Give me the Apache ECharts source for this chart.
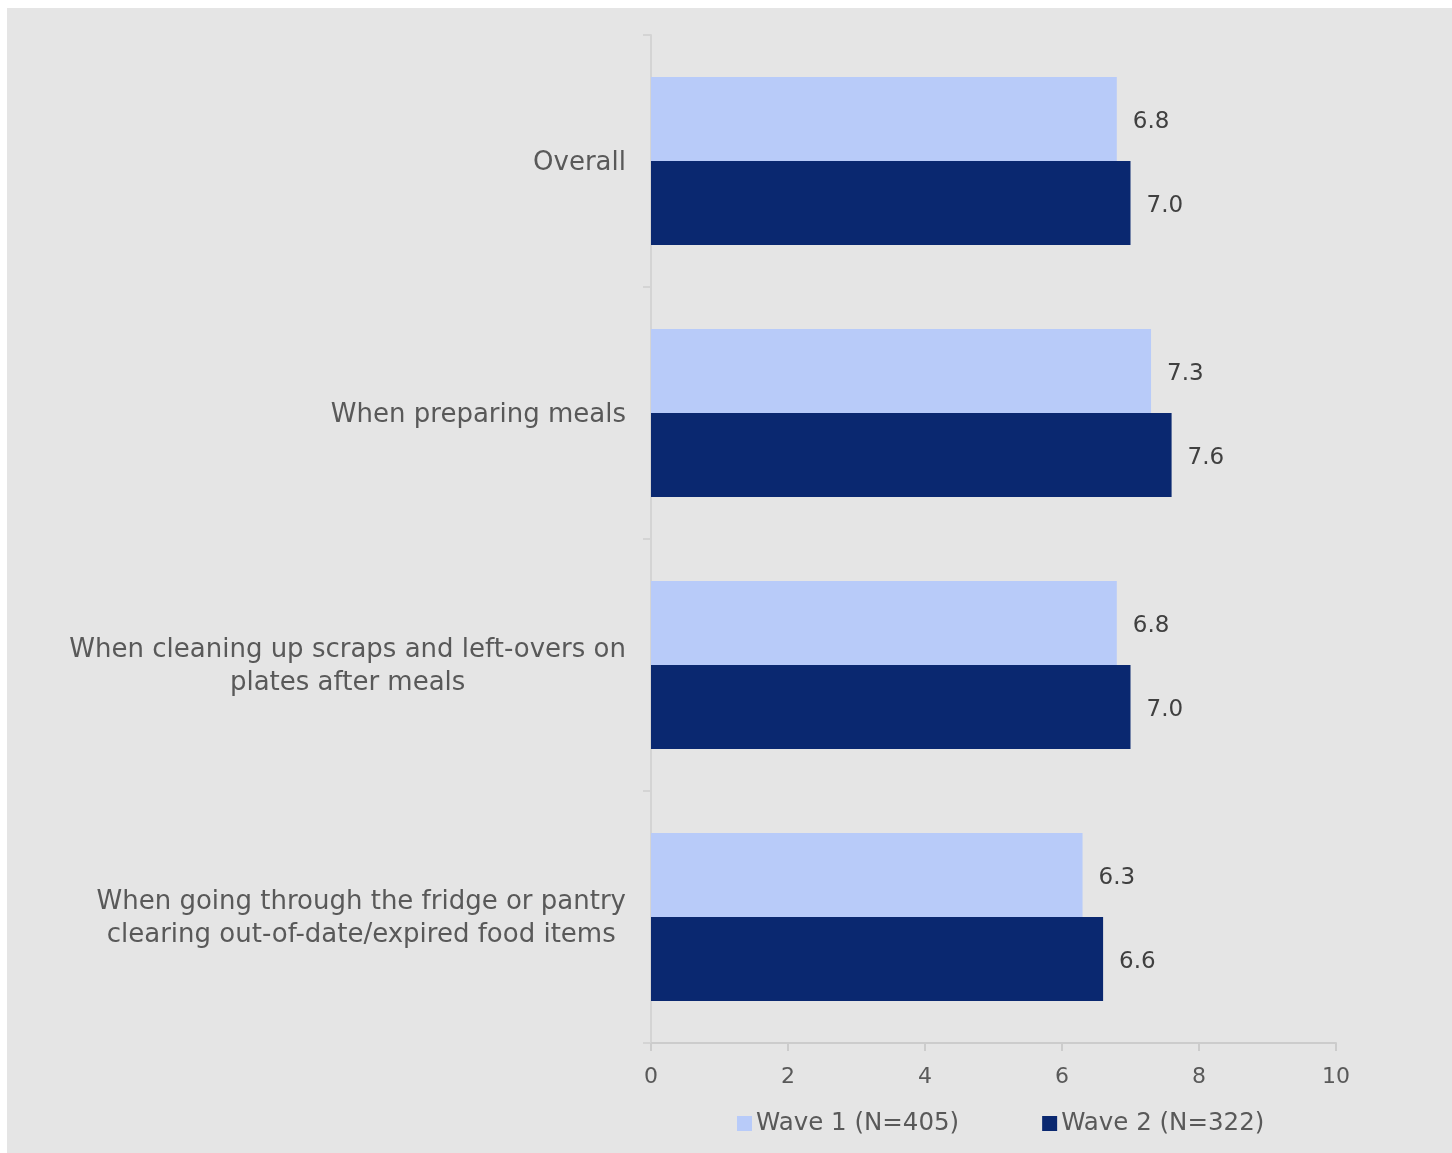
<!DOCTYPE html>
<html>
<head>
<meta charset="utf-8">
<style>
  html, body { margin: 0; padding: 0; background: #ffffff; }
  #chart { width: 1452px; height: 1153px; }
</style>
<script src="https://cdn.jsdelivr.net/npm/echarts@6/dist/echarts.min.js"></script>
</head>
<body>
<div id="chart"></div>
<script>
// Situations (top to bottom)
const categories = [
  'Overall',
  'When preparing meals',
  'When cleaning up scraps and left-overs on\nplates after meals',
  'When going through the fridge or pantry\nclearing out-of-date/expired food items'
];
const seriesNames = ['Wave 1 (N=405)', 'Wave 2 (N=322)'];
const wave1 = [6.8, 7.3, 6.8, 6.3];
const wave2 = [7.0, 7.6, 7.0, 6.6];
const xTicks = [0, 2, 4, 6, 8, 10];

const FONT = '"Century Gothic", "DejaVu Sans", sans-serif';
const chart = echarts.init(document.getElementById('chart'), null, { renderer: 'canvas' });

const valueLabel = {
  show: true,
  position: 'right',
  distance: 16,
  offset: [0, 3],
  color: '#404040',
  fontFamily: FONT,
  fontSize: 23,
  formatter: p => p.value.toFixed(1)
};

chart.setOption({
  backgroundColor: '#ffffff',
  animation: false,
  graphic: [{
    type: 'rect',
    z: -100,
    shape: { x: 7, y: 8, width: 1445, height: 1145 },
    style: { fill: '#e5e5e5' },
    silent: true
  }],
  grid: { left: 651, right: 116, top: 35, bottom: 110, containLabel: false },
  legend: {
    left: 732,
    top: 1106,
    itemWidth: 15,
    itemHeight: 15,
    itemGap: 83,
    icon: 'rect',
    textStyle: { color: '#595959', fontFamily: FONT, fontSize: 24.5, padding: [0, 0, 0, -1] },
    data: seriesNames
  },
  xAxis: {
    type: 'value',
    min: xTicks[0],
    max: xTicks[xTicks.length - 1],
    interval: xTicks[1] - xTicks[0],
    axisLine: { show: true, lineStyle: { color: '#cccccc', width: 2 } },
    axisTick: { show: true, length: 8, lineStyle: { color: '#cccccc', width: 2 } },
    splitLine: { show: false },
    axisLabel: { color: '#595959', fontFamily: FONT, fontSize: 22, margin: 23 }
  },
  yAxis: {
    type: 'category',
    inverse: true,
    data: categories,
    axisLine: { show: true, lineStyle: { color: '#d4d4d4', width: 2 } },
    axisTick: { show: true, length: 8, lineStyle: { color: '#d4d4d4', width: 2 } },
    axisLabel: {
      margin: 25,
      padding: [4, 0, 0, 0],
      color: '#595959',
      fontFamily: FONT,
      fontSize: 26,
      lineHeight: 33,
      formatter: v => v.split('\n').map(s => '{c|' + s + '}').join('\n'),
      rich: { c: { align: 'center', color: '#595959', fontFamily: FONT, fontSize: 26, lineHeight: 33 } }
    }
  },
  series: [
    {
      name: seriesNames[0],
      type: 'bar',
      data: wave1,
      barGap: '0%',
      barCategoryGap: '33.3%',
      itemStyle: { color: '#b8cbf9' },
      label: valueLabel
    },
    {
      name: seriesNames[1],
      type: 'bar',
      data: wave2,
      barGap: '0%',
      barCategoryGap: '33.3%',
      itemStyle: { color: '#0a2870' },
      label: valueLabel
    }
  ]
});
</script>
</body>
</html>
